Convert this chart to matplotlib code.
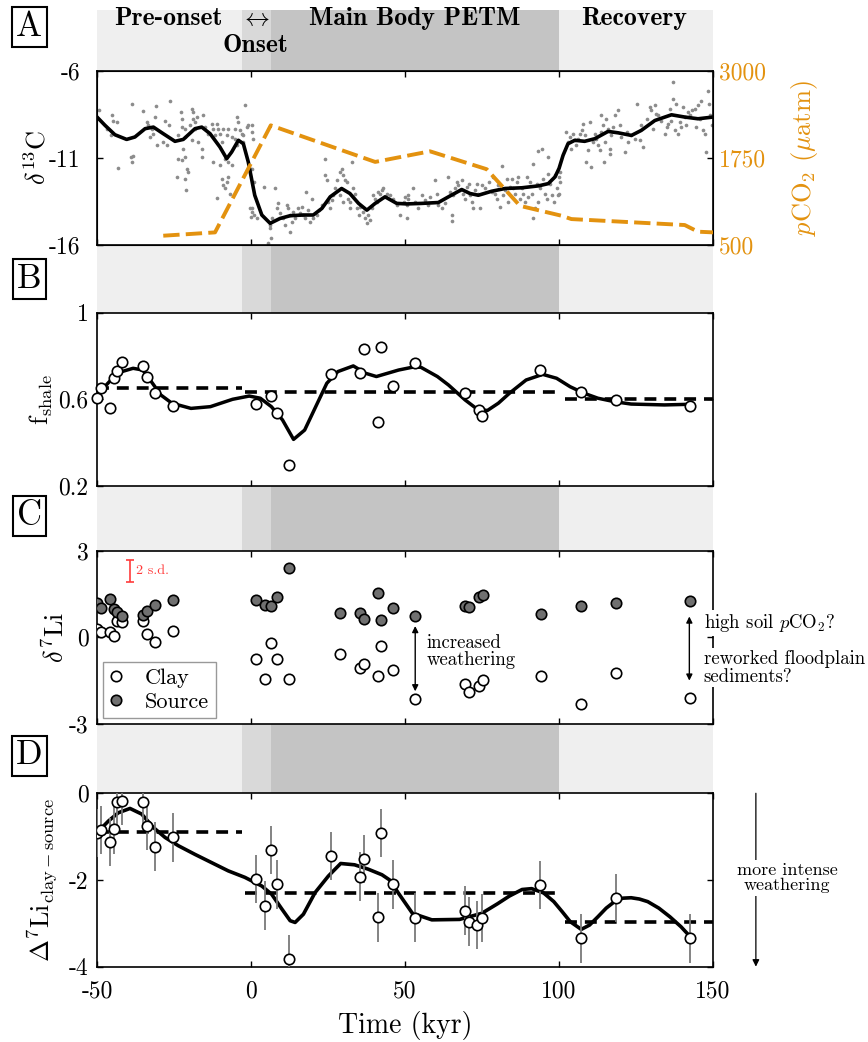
import numpy as np
import matplotlib.pyplot as plt

plt.rcParams['font.family'] = ['cmr10', 'DejaVu Serif']
plt.rcParams['mathtext.fontset'] = 'cm'
plt.rcParams['axes.unicode_minus'] = False
plt.rcParams['axes.formatter.use_mathtext'] = False

# ---- 1 data -------------------------------------------------------------
# panel A: d13C scatter (age kyr, d13C)
d13c_pre = [(-49.4,-8.26),(-45.2,-8.55),(-44.7,-8.84),(-43.6,-8.93),(-45.5,-9.66),(-46.9,-9.31),
            (-38.7,-7.88),(-39.0,-10.94),(-38.2,-10.89),(-38.7,-11.23),(-43.3,-11.56),(-35.0,-8.32),
            (-33.9,-8.93),(-33.3,-9.12),(-32.3,-9.31),(-31.7,-9.60),(-32.8,-9.79),(-30.8,-8.03),
            (-31.2,-8.64),(-30.6,-10.27),(-28.5,-10.08),(-27.4,-10.27),(-27.9,-8.84),(-26.3,-7.74),
            (-26.8,-9.12),(-23.6,-9.70),(-22.7,-8.36),(-22.5,-8.74),(-22.3,-9.22),(-21.4,-9.31),
            (-21.4,-9.79),(-22.0,-10.46),(-23.6,-11.04),(-22.5,-11.13),(-21.4,-10.94),(-20.9,-11.61),
            (-21.6,-12.19),(-24.1,-12.09),(-20.6,-11.80),(-21.2,-12.86),(-19.3,-8.17),(-18.7,-8.36),
            (-18.7,-8.74),(-18.2,-8.93),(-18.2,-9.31),(-19.8,-9.12),(-19.3,-9.98),(-17.6,-8.64),
            (-17.1,-10.08),(-16.0,-10.46),(-15.8,-10.94),(-15.5,-8.55),(-15.0,-9.22),(-13.9,-9.60),
            (-12.8,-9.03),(-12.2,-9.31),(-11.7,-9.70),(-11.1,-9.03),(-10.6,-9.31),(-10.1,-9.60),
            (-9.5,-10.08),(-12.2,-11.23),(-10.1,-11.42),(-9.5,-12.19),(-9.0,-12.57),(-8.4,-12.76),
            (-7.9,-12.38),(-7.4,-12.09),(-6.8,-13.05),(-11.1,-13.30),(-8.4,-11.04),(-7.4,-11.23),
            (-6.3,-11.42),(-5.2,-9.31),(-4.7,-8.64),(-4.1,-8.93),(-3.6,-9.41),(-3.0,-9.60),
            (-2.5,-9.70),(-2.0,-7.97),(-2.5,-10.08),(-1.4,-9.22),(-0.9,-9.12),(-0.3,-13.91),
            (0.0,-14.39),(0.2,-13.91),(-6.3,-9.79),(-5.2,-9.89),(-4.7,-10.27),(-7.4,-9.31),
            (-7.9,-9.70),(-9.0,-9.31),(0.2,-11.61),(0.8,-12.38)]
d13c_main = [(0.2,-9.12),(0.2,-9.51),(0.5,-9.89),(4.2,-12.67),(7.8,-12.76),(8.3,-13.91),(6.7,-14.49),
             (6.2,-14.87),(6.0,-15.06),(6.4,-15.64),(5.6,-15.92),(0.2,-14.10),(0.8,-14.29),(1.8,-14.49),
             (8.9,-13.62),(9.4,-14.20),(10.5,-14.49),(11.0,-14.87),(11.6,-13.72),(12.1,-13.91),
             (12.7,-14.29),(12.7,-15.25),(13.2,-14.68),(13.7,-14.10),(14.3,-14.49),(15.4,-13.91),
             (15.9,-14.20),(16.5,-13.82),(17.0,-14.29),(17.5,-14.49),(17.9,-12.95),(18.6,-14.01),
             (19.2,-14.68),(19.7,-13.34),(20.2,-14.49),(21.3,-14.29),(21.9,-14.01),(23.0,-13.72),
             (24.0,-11.04),(24.0,-12.00),(24.6,-12.28),(25.1,-13.53),(25.7,-13.91),(26.2,-13.43),
             (26.7,-13.15),(27.3,-12.76),(28.0,-12.28),(28.9,-11.80),(29.4,-11.61),(30.0,-12.00),
             (30.5,-12.28),(31.1,-12.38),(31.6,-13.34),(32.1,-13.53),(32.7,-11.23),(33.2,-12.76),
             (33.8,-13.05),(34.3,-13.91),(34.9,-14.29),(35.4,-13.82),(36.5,-14.10),(37.0,-14.49),
             (37.6,-14.77),(38.1,-14.29),(38.6,-14.58),(39.2,-13.91),(39.7,-13.15),(40.3,-13.34),
             (40.8,-13.53),(41.3,-12.95),(41.9,-13.05),(42.4,-12.86),(43.0,-12.76),(44.1,-13.05),
             (45.1,-13.15),(46.2,-13.34),(47.3,-13.72),(48.4,-14.29),(49.5,-13.53),(50.0,-13.24),
             (50.6,-14.49),(51.1,-13.15),(32.1,-13.91),(30.0,-13.53),(28.9,-13.15)]
d13c_late = [(50.5,-13.72),(51.1,-13.34),(52.7,-12.72),(53.2,-13.53),(54.3,-13.91),(55.4,-13.15),
             (56.5,-13.43),(57.6,-13.72),(58.1,-13.24),(59.7,-12.28),(60.3,-13.05),(60.8,-13.72),
             (61.9,-13.91),(63.0,-13.62),(64.1,-12.09),(64.6,-12.95),(65.2,-14.29),(65.2,-14.64),
             (65.7,-13.15),(66.2,-12.76),(66.8,-12.38),(67.3,-12.57),(67.9,-12.86),(68.4,-12.28),
             (68.9,-13.05),(69.5,-13.34),(70.0,-12.67),(70.6,-12.48),(71.1,-13.15),(71.6,-13.53),
             (72.2,-13.91),(72.7,-12.86),(73.3,-12.48),(73.8,-13.05),(74.4,-13.91),(74.9,-12.57),
             (76.0,-12.76),(77.1,-12.38),(78.1,-12.95),(78.7,-12.09),(79.2,-13.05),(79.8,-13.34),
             (80.3,-12.57),(80.8,-13.82),(81.4,-11.46),(81.9,-13.15),(82.5,-12.86),(83.0,-12.19),
             (83.5,-13.53),(84.1,-12.67),(84.6,-12.19),(85.2,-12.76),(85.7,-13.05),(86.3,-12.38),
             (86.8,-12.09),(87.3,-13.34),(87.9,-12.76),(88.4,-13.05),(89.0,-13.53),(89.5,-12.09),
             (90.0,-13.24),(90.6,-12.38),(91.1,-13.05),(91.5,-11.33),(91.7,-14.49),(92.2,-13.91),
             (92.7,-12.48),(93.1,-10.62),(93.3,-13.53),(93.8,-12.76),(94.4,-10.46),(94.9,-12.19),
             (95.5,-13.05),(96.0,-13.34),(96.5,-10.94),(96.5,-11.90),(97.1,-12.48),(97.6,-13.15),
             (98.2,-13.53),(98.7,-12.00),(99.2,-12.76),(99.8,-13.15),(100.3,-11.80)]
d13c_rec = [(100.0,-12.09),(100.0,-13.05),(100.2,-12.38),(102.4,-9.51),(102.9,-10.08),(103.5,-9.79),
            (104.0,-10.46),(104.5,-9.60),(105.1,-9.98),(105.6,-10.27),(106.2,-9.89),(106.7,-9.60),
            (107.3,-9.41),(107.8,-9.03),(108.3,-9.70),(108.9,-11.23),(109.4,-10.56),(110.0,-8.93),
            (110.5,-11.52),(111.0,-10.08),(111.6,-9.60),(112.1,-9.89),(112.7,-10.27),(113.2,-10.56),
            (113.7,-8.55),(113.7,-9.51),(114.3,-9.12),(114.6,-11.23),(114.8,-10.08),(115.4,-8.74),
            (115.9,-9.31),(116.5,-10.46),(116.5,-10.75),(117.0,-9.70),(117.5,-9.22),(118.1,-8.55),
            (119.2,-8.26),(119.7,-9.12),(120.2,-9.79),(121.3,-10.66),(121.9,-9.51),(122.4,-10.08),
            (123.5,-9.70),(124.6,-9.89),(125.3,-7.88),(126.2,-9.98),(126.7,-9.12),(127.3,-10.37),
            (128.4,-8.74),(129.4,-8.07),(130.0,-8.26),(130.5,-9.31),(131.1,-7.97),(131.6,-8.45),
            (132.1,-8.55),(133.2,-8.84),(134.3,-9.60),(134.9,-9.22),(135.4,-9.03),(136.0,-8.16),
            (136.5,-8.84),(137.0,-6.63),(137.0,-7.59),(137.6,-9.41),(138.1,-7.88),(138.6,-9.60),
            (139.2,-8.93),(139.7,-9.22),(140.3,-8.07),(140.8,-8.64),(141.3,-9.12),(141.9,-8.36),
            (142.4,-8.55),(143.0,-8.26),(144.1,-8.16),(144.6,-9.22),(145.1,-7.97),(145.7,-8.74),
            (146.2,-7.69),(146.8,-9.41),(147.3,-9.60),(147.8,-10.66),(148.2,-7.11),(148.6,-7.88),
            (148.9,-8.55),(149.5,-9.12)]

# panel A: smoothed d13C curve
smooth_a_age = [-50.0,-47.4,-44.2,-40.4,-37.7,-34.4,-31.7,-28.5,-24.7,-22.0,-18.2,-16.0,-13.3,-10.1,
                -7.9,-6.3,-4.1,-2.5,-0.9,1.2,3.5,6.2,9.4,12.7,17.0,20.2,23.0,25.7,29.4,32.1,34.9,
                37.6,40.3,43.5,47.3,50.6,55.4,60.8,64.1,68.4,71.1,73.8,78.1,82.5,87.9,93.3,96.5,
                98.7,100.0,101.3,102.9,105.1,108.3,111.6,115.9,119.2,123.5,126.7,131.1,136.5,
                140.8,145.1,150.0]
smooth_a_val = [-8.64,-9.12,-9.66,-9.93,-9.79,-9.31,-9.22,-9.60,-10.04,-9.93,-9.31,-9.22,-9.60,-10.37,
                -11.04,-10.66,-9.98,-10.18,-11.23,-13.15,-14.29,-14.77,-14.49,-14.33,-14.29,-14.29,
                -13.91,-13.24,-12.76,-13.05,-13.62,-14.01,-13.62,-13.24,-13.62,-13.65,-13.62,-13.57,
                -13.24,-12.82,-13.05,-13.15,-12.92,-12.76,-12.72,-12.61,-12.48,-12.09,-11.60,-10.85,
                -10.18,-9.98,-10.04,-9.89,-9.47,-9.55,-9.70,-9.41,-8.84,-8.51,-8.64,-8.74,-8.64]

# panel A: pCO2 (uatm)
pco2_age = [-28.5, -11.7, 6.4, 40.3, 58.1, 76.5, 87.3, 100.8, 104.0, 140.8, 145.1, 150.0]
pco2_val = [629, 677, 2220, 1693, 1846, 1588, 1060, 917, 869, 783, 687, 677]

# panel B: f_shale
fsh_age = [-50.0,-48.6,-45.9,-44.6,-43.4,-41.9,-35.1,-33.8,-31.1,-25.4,1.6,6.6,8.4,12.4,26.0,35.4,
           36.8,42.2,41.1,46.1,53.3,69.5,74.0,74.9,93.8,107.2,118.4,142.6]
fsh_val = [0.605,0.654,0.558,0.697,0.731,0.771,0.755,0.705,0.628,0.571,0.578,0.615,0.538,0.297,
           0.715,0.720,0.831,0.840,0.494,0.663,0.766,0.628,0.551,0.523,0.735,0.635,0.597,0.571]
smooth_b_age = [-50.0,-45.5,-41.9,-38.3,-35.1,-32.0,-29.3,-25.7,-19.5,-13.2,-6.0,-0.6,3.0,6.6,10.2,
                13.8,17.4,21.0,24.6,28.2,33.2,37.2,40.7,44.3,47.9,52.4,55.1,60.5,64.1,69.5,73.1,
                76.7,80.3,83.9,89.3,94.7,99.2,103.6,108.1,112.6,118.0,123.4,134.2,142.6]
smooth_b_val = [0.620,0.689,0.728,0.743,0.735,0.674,0.620,0.582,0.558,0.566,0.600,0.615,0.605,
                0.566,0.505,0.415,0.458,0.566,0.674,0.728,0.754,0.720,0.705,0.720,0.735,0.748,
                0.748,0.705,0.666,0.597,0.558,0.548,0.582,0.628,0.689,0.715,0.697,0.658,0.628,
                0.605,0.589,0.578,0.574,0.577]
fsh_mean_start = [-50, -2, 102]
fsh_mean_end = [-3, 100, 150]
fsh_mean = [0.654, 0.632, 0.600]

# panel C: d7Li of clay and source
li_age = [-50.0,-48.6,-45.9,-44.6,-43.4,-41.9,-35.1,-33.8,-31.1,-25.4,1.6,4.4,6.6,8.4,12.4,28.9,
          35.4,36.8,41.1,42.2,46.1,53.3,69.5,70.9,74.0,75.2,94.1,107.2,118.4,142.6]
li_source = [1.20,1.03,1.34,0.97,0.88,0.74,0.76,0.91,1.11,1.28,1.28,1.12,1.09,1.41,2.40,0.85,
             0.85,0.62,1.53,0.59,1.00,0.74,1.09,1.06,1.38,1.46,0.82,1.09,1.20,1.26]
li_clay = [0.27,0.18,0.18,0.06,0.56,0.53,0.56,0.13,-0.16,0.22,-0.75,-1.44,-0.21,-0.75,-1.44,-0.57,
           -1.08,-0.91,-1.33,-0.31,-1.14,-2.13,-1.61,-1.90,-1.70,-1.47,-1.33,-2.30,-1.23,-2.10]

# panel D: clay - source
dli_age = [-50.0,-48.6,-45.9,-44.6,-43.4,-41.9,-35.1,-33.8,-31.1,-25.4,1.6,4.4,6.6,8.4,12.4,26.0,
           35.4,36.8,41.1,42.2,46.1,53.3,69.5,70.9,73.5,74.9,93.8,107.2,118.4,142.6]
dli_val = [-0.92,-0.85,-1.12,-0.83,-0.19,-0.17,-0.19,-0.75,-1.23,-1.02,-1.98,-2.59,-1.31,-2.10,
           -3.83,-1.45,-1.92,-1.52,-2.86,-0.92,-2.10,-2.87,-2.71,-2.96,-3.04,-2.88,-2.12,-3.35,
           -2.42,-3.35]
dli_err = [0.56,0.56,0.56,0.56,0.56,0.56,0.56,0.56,0.56,0.56,0.56,0.56,0.56,0.56,0.56,0.56,
           0.56,0.56,0.56,0.56,0.56,0.56,0.56,0.56,0.56,0.56,0.56,0.56,0.56,0.56]
smooth_d_age = [-50.0,-46.3,-43.1,-39.3,-35.5,-31.7,-27.9,-23.6,-18.2,-12.8,-7.4,-2.0,3.5,6.7,10.0,
                12.7,14.3,17.0,20.8,25.1,27.3,29.1,33.6,38.0,42.5,45.0,47.9,52.4,58.7,67.7,74.9,
                80.0,83.9,88.0,91.1,95.0,98.3,101.0,103.6,107.2,109.9,112.6,115.3,118.0,120.7,
                123.4,126.1,128.8,132.4,136.0,139.6,142.6]
smooth_d_val = [-0.91,-0.64,-0.45,-0.35,-0.48,-0.79,-1.02,-1.21,-1.41,-1.60,-1.79,-1.94,-2.14,
                -2.33,-2.67,-2.94,-2.98,-2.79,-2.29,-1.91,-1.75,-1.62,-1.65,-1.75,-1.88,-2.00,
                -2.31,-2.77,-2.92,-2.91,-2.77,-2.55,-2.37,-2.22,-2.20,-2.30,-2.50,-2.73,-2.96,
                -3.14,-3.04,-2.85,-2.65,-2.50,-2.42,-2.41,-2.44,-2.50,-2.65,-2.85,-3.08,-3.31]
dli_mean_start = [-50, -2, 102]
dli_mean_end = [-3, 101, 150]
dli_mean = [-0.90, -2.31, -2.98]

# time intervals
phase_edges = [-50, -3, 6.5, 100, 150]
phase_colors = ['#efefef', '#d9d9d9', '#c4c4c4', '#efefef']

orange = '#e3920f'
xt = [-50, 0, 50, 100, 150]

# ---- 2 figure ------------------------------------------------------------
fig = plt.figure(figsize=(8.68, 10.42), dpi=100)
L, W, H = 0.1118, 0.7097, 0.1664
bottoms = [0.7652, 0.5336, 0.3052, 0.0723]

bg = fig.add_axes([L, 0.2387, W, 0.7517])
bg.set_xlim(-50, 150)
bg.axis('off')
for i in range(len(phase_colors)):
    bg.axvspan(phase_edges[i], phase_edges[i+1], color=phase_colors[i], lw=0)

axes = []
for b in bottoms:
    ax = fig.add_axes([L, b, W, H], facecolor='white')
    ax.set_xlim(-50, 150)
    ax.set_xticks(xt)
    for s in ax.spines.values():
        s.set_linewidth(1.2)
    ax.tick_params(direction='in', top=True, right=True, length=4, width=1.0,
                   labelsize=17, pad=6, labelbottom=False)
    axes.append(ax)
axA, axB, axC, axD = axes

# 2.1 panel A
sc = np.array(d13c_pre + d13c_main + d13c_late + d13c_rec)
axA.scatter(sc[:, 0], sc[:, 1], s=7, color='#8c8c8c', lw=0, zorder=2)
axA.plot(smooth_a_age, smooth_a_val, color='k', lw=2.6, zorder=3)
axA.set_ylim(-16, -6)
axA.set_yticks([-16, -11, -6])
axA.tick_params(right=False, pad=12)
axA.set_ylabel(r'$\delta^{13}$C', fontsize=19)
axA.yaxis.set_label_coords(-0.075, 0.5)

axA2 = axA.twinx()
axA2.set_xlim(-50, 150)
axA2.plot(pco2_age, pco2_val, color=orange, lw=2.8, dashes=(4.2, 1.6), zorder=4)
axA2.set_ylim(500, 3000)
axA2.set_yticks([500, 1750, 3000])
axA2.tick_params(direction='in', length=4, width=1.0, labelsize=17, pad=4, labelcolor=orange)
axA2.set_ylabel(r'$p$CO$_2$ ($\mu$atm)', fontsize=19, color=orange)
axA2.yaxis.set_label_coords(1.123, 0.5)

# 2.2 panel B
axB.plot(smooth_b_age, smooth_b_val, color='k', lw=2.5, zorder=3)
for i in range(len(fsh_mean)):
    axB.plot([fsh_mean_start[i], fsh_mean_end[i]], [fsh_mean[i], fsh_mean[i]], color='k', lw=2.6,
             dashes=(3.3, 2.2), zorder=2)
axB.plot(fsh_age, fsh_val, 'o', mfc='white', mec='k', ms=7.5, mew=1.2, zorder=4, clip_on=False)
axB.set_ylim(0.2, 1)
axB.set_yticks([0.2, 0.6, 1])
axB.set_yticklabels(['0.2', '0.6', '1'])
axB.set_ylabel(r'f$_{\mathrm{shale}}$', fontsize=19)
axB.yaxis.set_label_coords(-0.068, 0.5)

# 2.3 panel C
axC.plot(li_age, li_clay, 'o', mfc='white', mec='k', ms=7.5, mew=1.2, zorder=4, label='Clay')
axC.plot(li_age, li_source, 'o', mfc='#707070', mec='k', ms=7.5, mew=1.2, zorder=4, label='Source')
axC.set_ylim(-3, 3)
axC.set_yticks([-3, 0, 3])
axC.set_ylabel(r'$\delta^{7}$Li', fontsize=19)
axC.yaxis.set_label_coords(-0.045, 0.5)
axC.errorbar([-39.3], [2.3], yerr=0.375, color='#ff3b3b', lw=1.2, capsize=3, capthick=1.2)
axC.text(-37.2, 2.3, '2 s.d.', color='#ff3b3b', fontsize=10, va='center')
leg = axC.legend(loc='lower left', bbox_to_anchor=(0.0, 0.0), fontsize=16, frameon=True,
                 fancybox=False, edgecolor='#999999', framealpha=1, handlelength=0.6,
                 handletextpad=1.0, labelspacing=0.2, borderpad=0.3, borderaxespad=0.25)
leg.get_frame().set_linewidth(1.0)
axC.annotate('', xy=(53.3, -1.87), xytext=(53.3, 0.39),
             arrowprops=dict(arrowstyle='<|-|>', color='k', lw=1.0, mutation_scale=9,
                             shrinkA=0, shrinkB=0))
axC.text(56.9, -0.5, 'increased\nweathering', fontsize=13.5, ha='left', va='center',
         linespacing=0.95)
axC.annotate('', xy=(142.3, -1.5), xytext=(142.3, 0.72),
             arrowprops=dict(arrowstyle='<|-|>', color='k', lw=1.0, mutation_scale=9,
                             shrinkA=0, shrinkB=0))
axC.text(146.9, 0.49, r'high soil $p$CO$_2$?', fontsize=13.5, ha='left', va='center', zorder=6,
         bbox=dict(boxstyle='square,pad=0.1', fc='white', ec='none'))
axC.text(146.9, -1.06, 'reworked floodplain\nsediments?', fontsize=13.5, ha='left', va='center',
         linespacing=0.95, zorder=6, bbox=dict(boxstyle='square,pad=0.1', fc='white', ec='none'))

# 2.4 panel D
axD.plot(smooth_d_age, smooth_d_val, color='k', lw=2.6, zorder=3)
for i in range(len(dli_mean)):
    axD.plot([dli_mean_start[i], dli_mean_end[i]], [dli_mean[i], dli_mean[i]], color='k', lw=2.6,
             dashes=(3.3, 2.2), zorder=2)
axD.errorbar(dli_age, dli_val, yerr=dli_err, fmt='o', mfc='white', mec='k', ms=7.5, mew=1.2,
             ecolor='#7a7a7a', elinewidth=1.3, capsize=0, zorder=4)
axD.set_ylim(-4, 0)
axD.set_yticks([-4, -2, 0])
axD.tick_params(labelbottom=True, pad=10)
axD.tick_params(axis='y', pad=6)
axD.set_ylabel(r'$\Delta^{7}$Li$_{\mathrm{clay}-\mathrm{source}}$', fontsize=19)
axD.yaxis.set_label_coords(-0.062, 0.5)
axD.set_xlabel('Time (kyr)', fontsize=20, labelpad=6)
axD.annotate('', xy=(163.9, -4), xytext=(163.9, 0), annotation_clip=False,
             arrowprops=dict(arrowstyle='-|>', color='k', lw=0.9, mutation_scale=10,
                             shrinkA=0, shrinkB=0))
axD.text(174, -1.95, 'more intense\nweathering', fontsize=13, ha='center', va='center',
         linespacing=0.95, zorder=6, clip_on=False,
         bbox=dict(boxstyle='square,pad=0.15', fc='white', ec='none'))

# ---- 3 labels on top -------------------------------------------------------
fig.text(0.1935, 0.9818, 'Pre-onset', family='cmb10', fontsize=18.5, ha='center', va='center')
fig.text(0.2938, 0.9818, r'$\leftrightarrow$', fontsize=18, ha='center', va='center')
fig.text(0.2938, 0.9559, 'Onset', family='cmb10', fontsize=18.5, ha='center', va='center')
fig.text(0.4781, 0.9818, 'Main Body PETM', family='cmb10', fontsize=18.5, ha='center', va='center')
fig.text(0.7304, 0.9818, 'Recovery', family='cmb10', fontsize=18.5, ha='center', va='center')

panel_y = [0.9738, 0.7322, 0.5051, 0.2748]
for lab, y in zip(['A', 'B', 'C', 'D'], panel_y):
    fig.text(0.0338, y, lab, fontsize=25, ha='center', va='center',
             bbox=dict(boxstyle='square,pad=0.12', fc='white', ec='black', lw=1.5))

fig.savefig('out.png', dpi=100)
